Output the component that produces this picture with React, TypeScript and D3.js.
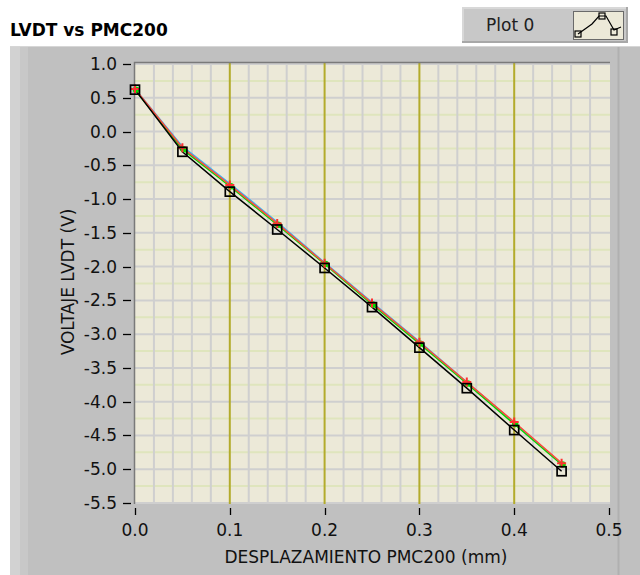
import React, { useEffect, useRef } from 'react';
import * as d3 from 'd3';

// displacement (mm)
const desplazamiento = [0, 0.05, 0.1, 0.15, 0.2, 0.25, 0.3, 0.35, 0.4, 0.45];

// LVDT voltage readings (V), one array per run
const serieCyan = [0.63, -0.22, -0.77, -1.34, -1.94, -2.53, -3.11, -3.71, -4.31, -4.92];
const serieVerde = [0.62, -0.26, -0.81, -1.38, -1.96, -2.56, -3.14, -3.73, -4.33, -4.93];
const serieRoja = [0.63, -0.24, -0.79, -1.36, -1.95, -2.54, -3.12, -3.71, -4.30, -4.91];
const serieNegra = [0.62, -0.30, -0.89, -1.45, -2.02, -2.60, -3.20, -3.80, -4.42, -5.03];

const xTicks = [0, 0.1, 0.2, 0.3, 0.4, 0.5];
const yTicks = [1.0, 0.5, 0.0, -0.5, -1.0, -1.5, -2.0, -2.5, -3.0, -3.5, -4.0, -4.5, -5.0, -5.5];

const title = 'LVDT vs PMC200';
const legendLabel = 'Plot 0';
const xTitle = 'DESPLAZAMIENTO PMC200 (mm)';
const yTitle = 'VOLTAJE LVDT (V)';

const LvdtChart = () => {
  const ref = useRef<SVGSVGElement>(null);

  useEffect(() => {
    const svg = d3.select(ref.current);
    svg.selectAll('*').remove();

    const width = 640;
    const height = 575;
    const font = '"DejaVu Sans", sans-serif';
    const fs = '17px';
    const plot = { left: 134, right: 610, top: 62, bottom: 504 };

    svg.attr('width', width).attr('height', height);

    // page + panel
    svg.append('rect').attr('width', width).attr('height', height).attr('fill', '#ffffff');
    svg.append('rect').attr('x', 10).attr('y', 46).attr('width', width - 10).attr('height', height - 46).attr('fill', '#c0c0c0');
    svg.append('rect').attr('x', 10).attr('y', 46).attr('width', 10).attr('height', height - 46).attr('fill', '#d2d2d2');
    svg.append('rect').attr('x', 20).attr('y', 46).attr('width', 8).attr('height', height - 46).attr('fill', '#c8c8c8');
    svg.append('line').attr('x1', 10).attr('x2', width).attr('y1', 46.5).attr('y2', 46.5).attr('stroke', '#d6d6d6');
    svg.append('line').attr('x1', 618.5).attr('x2', 618.5).attr('y1', 47).attr('y2', height).attr('stroke', '#b0b0b0').attr('stroke-width', 2);

    // title
    svg.append('text')
      .attr('x', 10).attr('y', 36)
      .style('font-family', font).style('font-size', fs).style('font-weight', 'bold')
      .text(title);

    // legend
    const lg = svg.append('g');
    lg.append('rect').attr('x', 462).attr('y', 7).attr('width', 166).attr('height', 36).attr('fill', '#a8a8a8');
    lg.append('rect').attr('x', 462).attr('y', 7).attr('width', 164).attr('height', 34).attr('fill', '#d8d8d8');
    lg.append('rect').attr('x', 464).attr('y', 9).attr('width', 162).attr('height', 32).attr('fill', '#c8c8c8');
    lg.append('text')
      .attr('x', 486).attr('y', 31)
      .style('font-family', font).style('font-size', fs).attr('fill', '#202020')
      .text(legendLabel);
    lg.append('rect').attr('x', 573.5).attr('y', 11.5).attr('width', 50).attr('height', 28)
      .attr('fill', '#ece9d8').attr('stroke', '#6a6a6a');
    const icon = [[578, 34], [592, 24], [599, 16], [606, 16], [614, 30], [621, 27]];
    lg.append('path').attr('d', d3.line()(icon as [number, number][])).attr('fill', 'none').attr('stroke', '#000').attr('stroke-width', 1.2);
    [[578, 34], [602, 16], [614, 32]].forEach(([cx, cy]) => {
      lg.append('rect').attr('x', cx - 3).attr('y', cy - 3).attr('width', 6).attr('height', 6)
        .attr('fill', 'none').attr('stroke', '#000').attr('stroke-width', 1.2);
    });

    const x = d3.scaleLinear().domain([0, 0.5]).range([135, 609]);
    const y = d3.scaleLinear().domain([-5.5, 1.0]).range([503, 64]);

    // plot area
    svg.append('rect')
      .attr('x', plot.left).attr('y', plot.top)
      .attr('width', plot.right - plot.left).attr('height', plot.bottom - plot.top)
      .attr('fill', '#ece9d8');

    const grid = svg.append('g');
    // minor horizontal (pale)
    grid.selectAll('line.hmin')
      .data(yTicks.slice(0, -1).map(v => v - 0.25))
      .join('line')
      .attr('x1', plot.left).attr('x2', plot.right)
      .attr('y1', d => y(d)).attr('y2', d => y(d))
      .attr('stroke', '#dfe5bd').attr('stroke-width', 2);
    // vertical minor (every 0.02)
    grid.selectAll('line.vmin')
      .data(x.ticks(25).filter(v => Math.round(v * 100) % 10 !== 0))
      .join('line')
      .attr('x1', d => x(d)).attr('x2', d => x(d))
      .attr('y1', plot.top).attr('y2', plot.bottom)
      .attr('stroke', '#cfcfcf').attr('stroke-width', 2);
    // horizontal major
    grid.selectAll('line.hmaj')
      .data(yTicks)
      .join('line')
      .attr('x1', plot.left).attr('x2', plot.right)
      .attr('y1', d => y(d)).attr('y2', d => y(d))
      .attr('stroke', '#cfcfcf').attr('stroke-width', 2);
    // vertical major (gold)
    svg.append('g').selectAll('line')
      .data(xTicks.filter(v => v > 0 && v < 0.5))
      .join('line')
      .attr('x1', d => x(d)).attr('x2', d => x(d))
      .attr('y1', plot.top).attr('y2', plot.bottom)
      .attr('stroke', '#b3ab2c').attr('stroke-width', 2);

    // sunken frame
    svg.append('path')
      .attr('d', `M${plot.left + 0.5},${plot.bottom} V${plot.top + 0.5} H${plot.right}`)
      .attr('fill', 'none').attr('stroke', '#7a7a7a').attr('stroke-width', 1.5);

    // series
    const line = d3.line<number>()
      .x((_, i) => x(desplazamiento[i]))
      .y(d => y(d));

    const series = [
      { values: serieCyan, color: '#3fb0f0' },
      { values: serieVerde, color: '#00d800' },
      { values: serieRoja, color: '#ff4a3a' },
      { values: serieNegra, color: '#000000' },
    ];
    series.forEach(s => {
      svg.append('path')
        .attr('d', line(s.values))
        .attr('fill', 'none')
        .attr('stroke', s.color)
        .attr('stroke-width', 1.5);
    });

    // markers
    svg.append('g').selectAll('circle')
      .data(serieVerde)
      .join('circle')
      .attr('cx', (_, i) => x(desplazamiento[i]) + 1)
      .attr('cy', d => y(d))
      .attr('r', 3.2)
      .attr('fill', '#00e000');

    svg.append('g').selectAll('path')
      .data(serieRoja)
      .join('path')
      .attr('d', (d, i) => {
        const cx = x(desplazamiento[i]);
        const cy = y(d);
        return `M${cx - 4.5},${cy} H${cx + 4.5} M${cx},${cy - 4.5} V${cy + 4.5}`;
      })
      .attr('stroke', '#ff3030').attr('stroke-width', 2);

    svg.append('g').selectAll('rect')
      .data(serieNegra)
      .join('rect')
      .attr('x', (_, i) => x(desplazamiento[i]) - 4.5)
      .attr('y', d => y(d) - 4.5)
      .attr('width', 9).attr('height', 9)
      .attr('fill', 'none').attr('stroke', '#000').attr('stroke-width', 1.7);

    // y axis
    const yAxis = svg.append('g');
    yAxis.selectAll('line')
      .data(yTicks)
      .join('line')
      .attr('x1', 123).attr('x2', 131)
      .attr('y1', d => Math.round(y(d)) + 0.5).attr('y2', d => Math.round(y(d)) + 0.5)
      .attr('stroke', '#000').attr('stroke-width', 1.3);
    yAxis.selectAll('text')
      .data(yTicks)
      .join('text')
      .attr('x', 117)
      .attr('y', d => y(d) + 6)
      .attr('text-anchor', 'end')
      .style('font-family', font).style('font-size', fs).attr('fill', '#111')
      .text(d => d.toFixed(1));

    // x axis
    const xAxis = svg.append('g');
    xAxis.selectAll('line')
      .data(xTicks)
      .join('line')
      .attr('x1', d => Math.round(x(d)) + 0.5).attr('x2', d => Math.round(x(d)) + 0.5)
      .attr('y1', 508).attr('y2', 515)
      .attr('stroke', '#000').attr('stroke-width', 1.3);
    xAxis.selectAll('text')
      .data(xTicks)
      .join('text')
      .attr('x', d => x(d))
      .attr('y', 536)
      .attr('text-anchor', 'middle')
      .style('font-family', font).style('font-size', fs).attr('fill', '#111')
      .text(d => d.toFixed(1));

    // axis titles
    svg.append('text')
      .attr('x', 366).attr('y', 563)
      .attr('text-anchor', 'middle')
      .style('font-family', font).style('font-size', fs).attr('fill', '#111')
      .text(xTitle);
    svg.append('text')
      .attr('transform', 'translate(74,282) rotate(-90)')
      .attr('text-anchor', 'middle')
      .style('font-family', font).style('font-size', fs).attr('fill', '#111')
      .text(yTitle);
  }, []);

  return <svg ref={ref} style={{ position: 'absolute', left: 0, top: 0, display: 'block' }}></svg>;
};

export default function App() {
  return <LvdtChart />;
}
